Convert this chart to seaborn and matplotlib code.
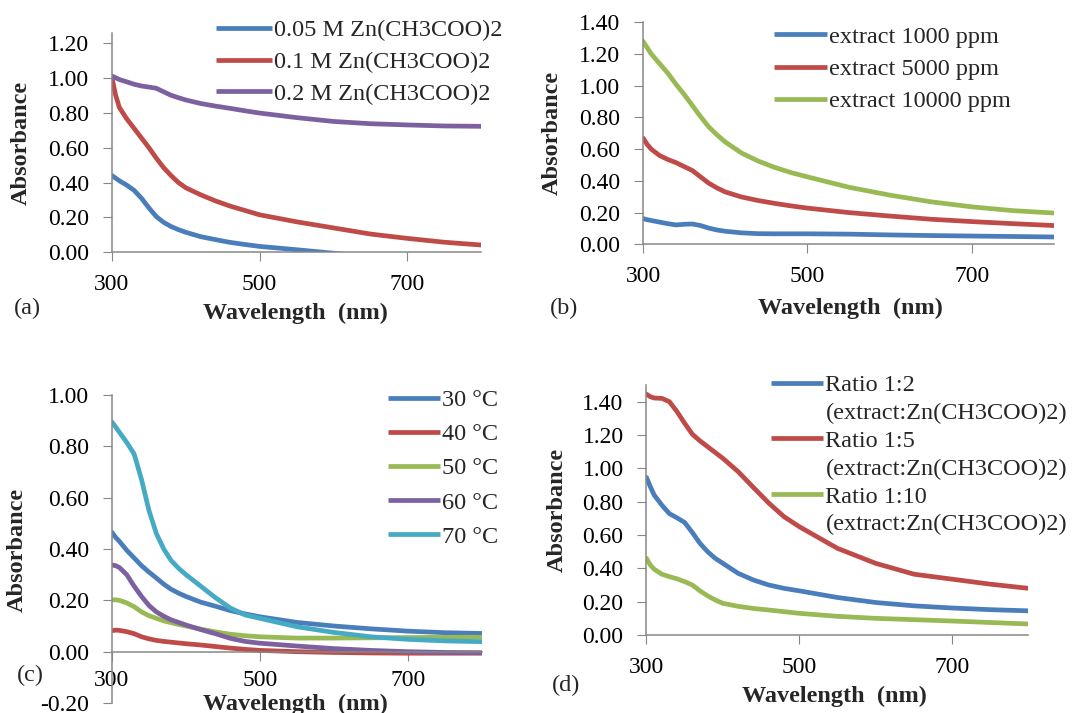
import matplotlib
matplotlib.use("Agg")
import matplotlib.pyplot as plt
from matplotlib.lines import Line2D
from matplotlib.ticker import FormatStrFormatter, FixedLocator
import pandas as pd
import seaborn as sns

# ---------------------------------------------------------------- data
wavelength = [300, 305, 310, 320, 330, 340, 350, 360, 370, 380, 390, 400,
              420, 440, 460, 480, 500, 550, 600, 650, 700, 750, 800]

# (a) zinc acetate concentration
conc_labels = ["0.05 M Zn(CH3COO)2", "0.1 M Zn(CH3COO)2", "0.2 M Zn(CH3COO)2"]
conc_005 = [0.44, 0.425, 0.41, 0.385, 0.355, 0.31, 0.255, 0.205, 0.172, 0.148, 0.13, 0.115,
            0.09, 0.073, 0.057, 0.045, 0.034, 0.015, -0.005, -0.03, -0.035, -0.038, -0.04]
conc_01 = [1.0, 0.9, 0.83, 0.765, 0.71, 0.655, 0.6, 0.54, 0.485, 0.44, 0.4, 0.37,
           0.33, 0.295, 0.265, 0.24, 0.215, 0.175, 0.14, 0.105, 0.08, 0.058, 0.042]
conc_02 = [1.01, 1.0, 0.99, 0.977, 0.963, 0.953, 0.947, 0.94, 0.92, 0.9, 0.886, 0.873,
           0.853, 0.838, 0.825, 0.811, 0.798, 0.772, 0.75, 0.737, 0.73, 0.724, 0.722]

# (b) extract concentration
extract_labels = ["extract 1000 ppm", "extract 5000 ppm", "extract 10000 ppm"]
extract_1000 = [0.162, 0.155, 0.15, 0.14, 0.13, 0.122, 0.126, 0.128, 0.118, 0.102, 0.09, 0.082,
                0.072, 0.067, 0.066, 0.066, 0.066, 0.064, 0.059, 0.055, 0.052, 0.049, 0.046]
extract_5000 = [0.67, 0.63, 0.6, 0.56, 0.535, 0.515, 0.49, 0.465, 0.425, 0.385, 0.355, 0.33,
                0.298, 0.276, 0.258, 0.242, 0.228, 0.2, 0.178, 0.158, 0.143, 0.13, 0.118]
extract_10000 = [1.28, 1.24, 1.2, 1.14, 1.08, 1.01, 0.945, 0.875, 0.805, 0.74, 0.69, 0.645,
                 0.575, 0.525, 0.485, 0.452, 0.425, 0.36, 0.31, 0.268, 0.236, 0.212, 0.197]

# (c) synthesis temperature
temp_labels = ["30 \u00b0C", "40 \u00b0C", "50 \u00b0C", "60 \u00b0C", "70 \u00b0C"]
temp_30 = [0.465, 0.445, 0.43, 0.395, 0.365, 0.335, 0.31, 0.287, 0.263, 0.243, 0.228, 0.215,
           0.193, 0.177, 0.16, 0.147, 0.136, 0.114, 0.1, 0.089, 0.08, 0.074, 0.071]
temp_40 = [0.082, 0.084, 0.083, 0.078, 0.07, 0.058, 0.05, 0.044, 0.04, 0.037, 0.034, 0.031,
           0.026, 0.02, 0.014, 0.009, 0.005, 0.0, -0.003, -0.005, -0.006, -0.006, -0.006]
temp_50 = [0.202, 0.202, 0.2, 0.19, 0.175, 0.155, 0.14, 0.13, 0.12, 0.113, 0.106, 0.1,
           0.088, 0.077, 0.068, 0.062, 0.058, 0.053, 0.053, 0.054, 0.055, 0.056, 0.056]
temp_60 = [0.338, 0.335, 0.328, 0.3, 0.255, 0.215, 0.18, 0.155, 0.138, 0.124, 0.114, 0.104,
           0.086, 0.07, 0.052, 0.04, 0.033, 0.022, 0.012, 0.005, 0.0, -0.003, -0.004]
temp_70 = [0.895, 0.875, 0.855, 0.815, 0.77, 0.67, 0.55, 0.46, 0.4, 0.355, 0.325, 0.3,
           0.255, 0.21, 0.17, 0.143, 0.13, 0.097, 0.075, 0.058, 0.048, 0.042, 0.039]

# (d) extract : zinc acetate ratio
ratio_labels = ["Ratio 1:2", "Ratio 1:5", "Ratio 1:10"]
ratio_note = "(extract:Zn(CH3COO)2)"
ratio_1_2 = [0.945, 0.89, 0.84, 0.78, 0.728, 0.703, 0.675, 0.615, 0.55, 0.5, 0.46, 0.43,
             0.37, 0.33, 0.3, 0.28, 0.265, 0.225, 0.195, 0.175, 0.162, 0.152, 0.145]
ratio_1_5 = [1.445, 1.43, 1.422, 1.42, 1.4, 1.34, 1.27, 1.205, 1.165, 1.13, 1.095, 1.06,
             0.98, 0.885, 0.792, 0.71, 0.65, 0.52, 0.43, 0.365, 0.335, 0.305, 0.28]
ratio_1_10 = [0.46, 0.42, 0.395, 0.365, 0.35, 0.337, 0.32, 0.3, 0.265, 0.235, 0.21, 0.19,
              0.172, 0.159, 0.15, 0.14, 0.13, 0.112, 0.1, 0.092, 0.084, 0.075, 0.066]

x_ticks = [300, 500, 700]

BLUE, RED, GREEN, PURPLE, AQUA = "#4A7EBB", "#BE4B48", "#98B954", "#7D60A0", "#46AAC5"

# ---------------------------------------------------------------- style
sns.set_style("ticks")
plt.rcParams["font.family"] = ["Liberation Serif", "DejaVu Serif"]
plt.rcParams["axes.unicode_minus"] = False

TICK_FS = 17
TEXT_FS = 17.5
AXIS_GREY = "#878787"
LW = 3.4

fig = plt.figure(figsize=(10.86, 7.13), dpi=100)


def long_frame(labels, series):
    rows = []
    for lab, vals in zip(labels, series):
        for w, v in zip(wavelength, vals):
            rows.append((w, v, lab))
    return pd.DataFrame(rows, columns=["wavelength", "absorbance", "series"])


def panel(rect, labels, series, colors, ylim, yticks, xlabel_xy, ylabel_xy, xpad=9):
    ax = fig.add_axes(rect)
    df = long_frame(labels, series)
    sns.lineplot(data=df, x="wavelength", y="absorbance", hue="series",
                 hue_order=labels, palette=colors, linewidth=LW,
                 legend=False, ax=ax)
    ax.set_xlim(300, 800)
    ax.set_ylim(*ylim)
    ax.xaxis.set_major_locator(FixedLocator(x_ticks))
    ax.yaxis.set_major_locator(FixedLocator(yticks))
    ax.yaxis.set_major_formatter(FormatStrFormatter("%.2f"))
    for side in ("top", "right"):
        ax.spines[side].set_visible(False)
    for side in ("left", "bottom"):
        ax.spines[side].set_color(AXIS_GREY)
        ax.spines[side].set_linewidth(1.1)
    ax.tick_params(axis="both", direction="out", length=6.5, width=0.8,
                   color=AXIS_GREY, labelsize=TICK_FS, labelcolor="black")
    ax.tick_params(axis="y", pad=10)
    ax.tick_params(axis="x", pad=xpad)
    ax.set_xlabel("Wavelength  (nm)", fontsize=TEXT_FS, fontweight="bold")
    ax.set_ylabel("Absorbance", fontsize=TEXT_FS, fontweight="bold")
    ax.xaxis.set_label_coords(*xlabel_xy)
    ax.yaxis.set_label_coords(*ylabel_xy)
    ax.xaxis.label.set_va("center")
    ax.yaxis.label.set_va("center")
    ax.set_facecolor("none")
    return ax


def add_legend(handles, labels, anchor, spacing, handlelength):
    fig.legend(handles, labels, loc="center left", bbox_to_anchor=anchor,
               bbox_transform=fig.transFigure, frameon=False, fontsize=TEXT_FS,
               borderpad=0, borderaxespad=0, handlelength=handlelength,
               handletextpad=0.1, labelspacing=spacing)


def line_handle(color):
    return Line2D([], [], color=color, linewidth=LW, solid_capstyle="butt")


# (a)
ax_a = panel([0.1031, 0.6461, 0.3398, 0.3072], conc_labels,
             [conc_005, conc_01, conc_02], [BLUE, RED, PURPLE],
             (0, 1.255), [0, 0.2, 0.4, 0.6, 0.8, 1.0, 1.2],
             (0.496, -0.277), (-0.247, 0.499))
add_legend([line_handle(c) for c in (BLUE, RED, PURPLE)], conc_labels,
           (216 / 1086, 0.913), 0.4, 2.3)

# (b)
ax_b = panel([0.5921, 0.6574, 0.3785, 0.3114], extract_labels,
             [extract_1000, extract_5000, extract_10000], [BLUE, RED, GREEN],
             (0, 1.4), [0, 0.2, 0.4, 0.6, 0.8, 1.0, 1.2, 1.4],
             (0.504, -0.287), (-0.221, 0.501))
add_legend([line_handle(c) for c in (BLUE, RED, GREEN)], extract_labels,
           (774 / 1086, 0.903), 0.42, 2.18)

# (c)
ax_c = panel([0.1031, 0.014, 0.3407, 0.432], temp_labels,
             [temp_30, temp_40, temp_50, temp_60, temp_70],
             [BLUE, RED, GREEN, PURPLE, AQUA],
             (-0.2, 1.0), [-0.2, 0.0, 0.2, 0.4, 0.6, 0.8, 1.0],
             (0.496, -0.004), (-0.255, 0.497), xpad=6.5)
ax_c.spines["bottom"].set_position(("data", 0))
add_legend([line_handle(c) for c in (BLUE, RED, GREEN, PURPLE, AQUA)], temp_labels,
           (388 / 1086, 0.343), 0.5, 2.14)

# (d)
ax_d = panel([0.5953, 0.1094, 0.3517, 0.3506], ratio_labels,
             [ratio_1_2, ratio_1_5, ratio_1_10], [BLUE, RED, GREEN],
             (0, 1.5), [0, 0.2, 0.4, 0.6, 0.8, 1.0, 1.2, 1.4],
             (0.493, -0.247), (-0.234, 0.5))
blank = Line2D([], [], linestyle="none")
d_handles, d_labels = [], []
for lab, col in zip(ratio_labels, (BLUE, RED, GREEN)):
    d_handles += [line_handle(col), blank]
    d_labels += [lab, ratio_note]
add_legend(d_handles, d_labels, (771 / 1086, 0.362), 0.24, 2.14)

# panel letters
for letter, (px, py) in {"(a)": (14, 308), "(b)": (550, 308),
                         "(c)": (17, 675), "(d)": (552, 685)}.items():
    fig.text(px / 1086, 1 - py / 713, letter, fontsize=TEXT_FS, ha="left", va="center")

fig.savefig("out.png", dpi=100)
